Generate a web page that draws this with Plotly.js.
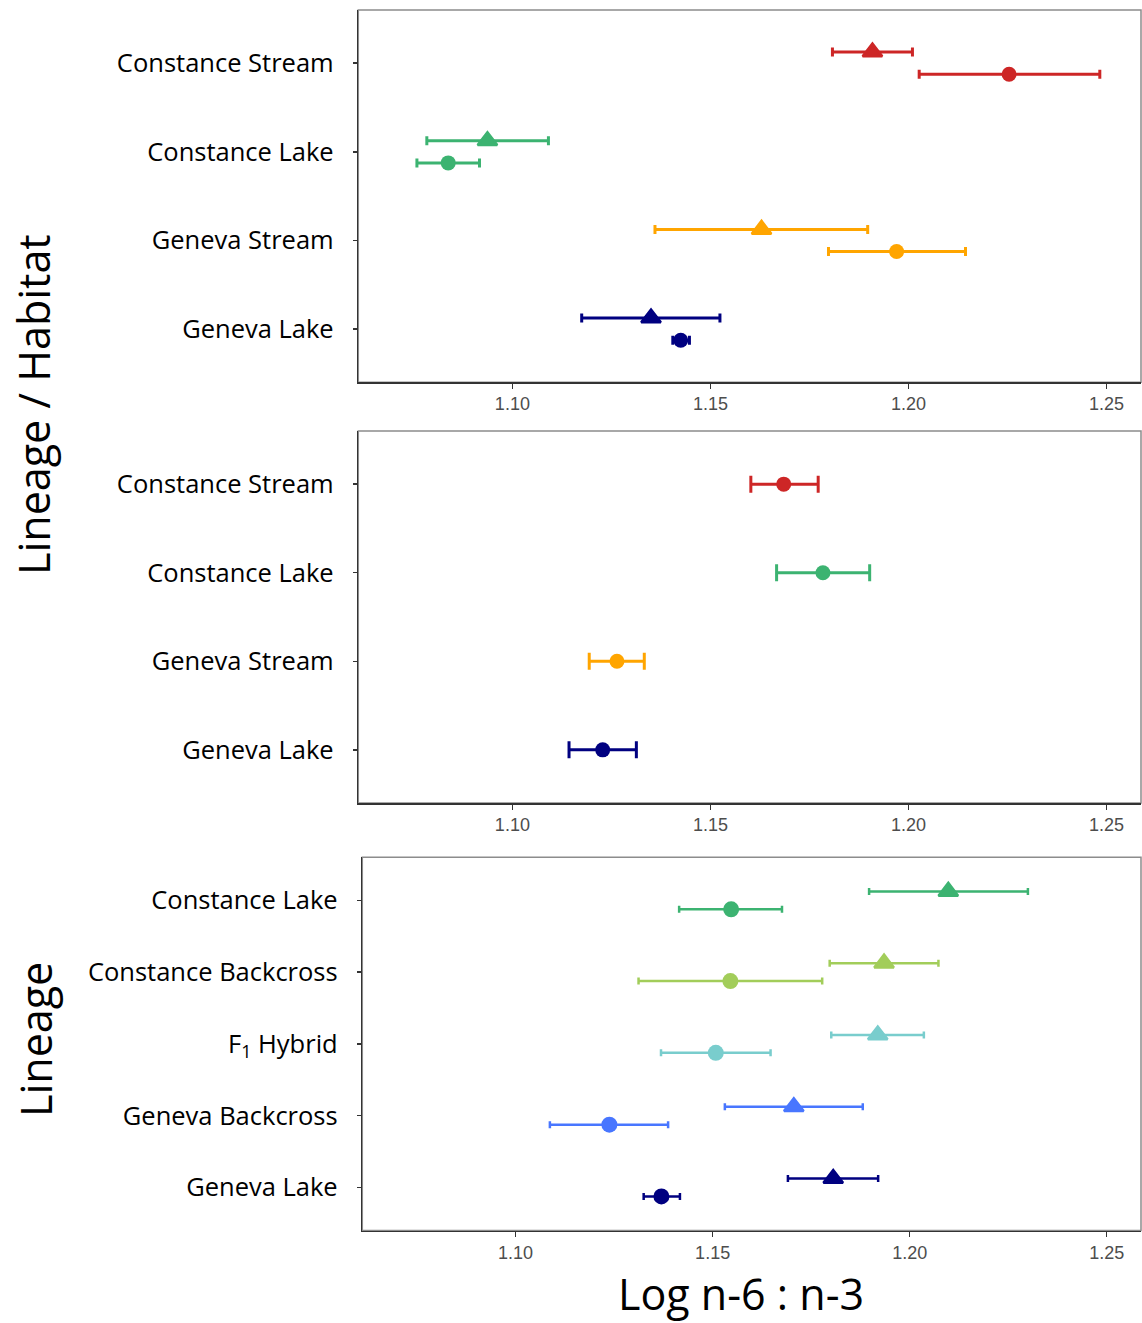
<!DOCTYPE html>
<html><head><meta charset="utf-8">
<script src="https://cdn.plot.ly/plotly-3.0.1.min.js"></script>
<style>html,body{margin:0;padding:0;background:#fff}#chart{width:1142px;height:1323px}</style>
</head><body><div id="chart"></div>
<script>
// ---------- data ----------
const xTickVals = [1.10, 1.15, 1.20, 1.25];
const xTickText = ['1.10', '1.15', '1.20', '1.25'];

// Panel 1 (two habitats compared: triangle vs circle)
const p1Cats = ['Geneva Lake', 'Geneva Stream', 'Constance Lake', 'Constance Stream'];
const p1Colors = ['#000080', '#FFA500', '#3CB371', '#CD2626'];
const p1TriMean = [1.1350, 1.1629, 1.0937, 1.1909];
const p1TriLow  = [1.1175, 1.1360, 1.0784, 1.1808];
const p1TriHigh = [1.1524, 1.1897, 1.1091, 1.2010];
const p1CirMean = [1.1425, 1.1970, 1.0838, 1.2254];
const p1CirLow  = [1.1405, 1.1798, 1.0759, 1.2027];
const p1CirHigh = [1.1447, 1.2144, 1.0917, 1.2483];

// Panel 2 (circle only)
const p2Cats = ['Geneva Lake', 'Geneva Stream', 'Constance Lake', 'Constance Stream'];
const p2Colors = ['#000080', '#FFA500', '#3CB371', '#CD2626'];
const p2Mean = [1.1228, 1.1264, 1.1784, 1.1685];
const p2Low  = [1.1143, 1.1194, 1.1667, 1.1602];
const p2High = [1.1313, 1.1333, 1.1902, 1.1772];

// Panel 3 (lineages)
const p3Cats = ['Geneva Lake', 'Geneva Backcross', 'F<sub>1</sub> Hybrid', 'Constance Backcross', 'Constance Lake'];
const p3Colors = ['#000080', '#4876FF', '#79CDCD', '#A2CD5A', '#3CB371'];
const p3TriMean = [1.1806, 1.1706, 1.1919, 1.1935, 1.2098];
const p3TriLow  = [1.1691, 1.1531, 1.1801, 1.1797, 1.1897];
const p3TriHigh = [1.1920, 1.1881, 1.2036, 1.2073, 1.2300];
const p3CirMean = [1.1370, 1.1238, 1.1508, 1.1545, 1.1547];
const p3CirLow  = [1.1325, 1.1087, 1.1369, 1.1312, 1.1415];
const p3CirHigh = [1.1417, 1.1387, 1.1647, 1.1778, 1.1676];

// ---------- build ----------
const W = 1142, H = 1323;
const traces = [];
function addPt(xa, ya, yv, mean, lo, hi, color, symbol, msize, lw, capw) {
  traces.push({
    type: 'scatter', mode: 'markers', xaxis: xa, yaxis: ya,
    x: [mean], y: [yv], showlegend: false, hoverinfo: 'x',
    marker: {symbol: symbol, size: msize, color: color,
             line: {color: color, width: symbol === 'triangle-up' ? 2.5 : 0}},
    error_x: {type: 'data', symmetric: false, array: [hi - mean], arrayminus: [mean - lo],
              color: color, thickness: lw, width: capw}
  });
}
const off = 0.125;
p1Cats.forEach((c, i) => {
  addPt('x', 'y', i + 1 + off, p1TriMean[i], p1TriLow[i], p1TriHigh[i], p1Colors[i], 'triangle-up', 17, 3, 4.5);
  addPt('x', 'y', i + 1 - off, p1CirMean[i], p1CirLow[i], p1CirHigh[i], p1Colors[i], 'circle', 15, 3, 4.5);
});
p2Cats.forEach((c, i) => {
  addPt('x2', 'y2', i + 1, p2Mean[i], p2Low[i], p2High[i], p2Colors[i], 'circle', 15, 3, 8.5);
});
p3Cats.forEach((c, i) => {
  addPt('x3', 'y3', i + 1 + off, p3TriMean[i], p3TriLow[i], p3TriHigh[i], p3Colors[i], 'triangle-up', 17, 2.5, 3.5);
  addPt('x3', 'y3', i + 1 - off, p3CirMean[i], p3CirLow[i], p3CirHigh[i], p3Colors[i], 'circle', 16, 2.5, 3.5);
});

const xr = [1.0611, 1.2587];
function px(v) { return v / W; }
function py(v) { return 1 - v / H; }
function xaxis(dom, anchor) {
  return {domain: dom, anchor: anchor, range: xr, tickvals: xTickVals, ticktext: xTickText,
    showgrid: false, zeroline: false, showline: true, linecolor: '#333', linewidth: 1.5,
    ticks: 'outside', ticklen: 5, tickcolor: '#333', tickwidth: 1.5,
    tickfont: {family: 'Liberation Sans, Arial', size: 18, color: '#4D4D4D'}, fixedrange: true};
}
function yaxis(dom, anchor, cats) {
  return {domain: dom, anchor: anchor, range: [0.4, cats.length + 0.6],
    tickvals: cats.map((c, i) => i + 1), ticktext: cats,
    showgrid: false, zeroline: false, showline: true, linecolor: '#333', linewidth: 1.5,
    ticks: 'outside', ticklen: 4, tickcolor: '#333', tickwidth: 1.5, ticklabelstandoff: 14,
    tickfont: {family: 'Open Sans, Noto Sans', size: 25.5, color: '#000'}, fixedrange: true};
}
const d1x = [px(358.3), px(1141)], d1y = [py(382.3), py(10)];
const d2x = [px(358.3), px(1141)], d2y = [py(803), py(431)];
const d3x = [px(362.3), px(1141)], d3y = [py(1230.5), py(857.3)];

function border(dx, dy) {
  return {type: 'rect', xref: 'paper', yref: 'paper', x0: dx[0], x1: dx[1], y0: dy[0], y1: dy[1],
    line: {color: '#8C8C8C', width: 1.5}, fillcolor: 'rgba(0,0,0,0)', layer: 'below'};
}
const layout = {
  width: W, height: H, margin: {l: 0, r: 0, t: 0, b: 0},
  paper_bgcolor: '#fff', plot_bgcolor: '#fff', showlegend: false,
  xaxis: xaxis(d1x, 'y'), yaxis: yaxis(d1y, 'x', p1Cats),
  xaxis2: xaxis(d2x, 'y2'), yaxis2: yaxis(d2y, 'x2', p2Cats),
  xaxis3: xaxis(d3x, 'y3'), yaxis3: yaxis(d3y, 'x3', p3Cats),
  shapes: [border(d1x, d1y), border(d2x, d2y), border(d3x, d3y)],
  annotations: [
    {text: 'Lineage / Habitat', xref: 'paper', yref: 'paper', x: px(33), y: py(405),
     xanchor: 'center', yanchor: 'middle', textangle: -90, showarrow: false,
     font: {family: 'Open Sans, Noto Sans', size: 43, color: '#000'}},
    {text: 'Lineage', xref: 'paper', yref: 'paper', x: px(35), y: py(1040),
     xanchor: 'center', yanchor: 'middle', textangle: -90, showarrow: false,
     font: {family: 'Open Sans, Noto Sans', size: 43, color: '#000'}},
    {text: 'Log n-6 : n-3', xref: 'paper', yref: 'paper', x: px(741), y: py(1262),
     xanchor: 'center', yanchor: 'top', showarrow: false,
     font: {family: 'Open Sans, Noto Sans', size: 43, color: '#000'}}
  ]
};
Plotly.newPlot('chart', traces, layout, {displayModeBar: false, staticPlot: true});
</script></body></html>
